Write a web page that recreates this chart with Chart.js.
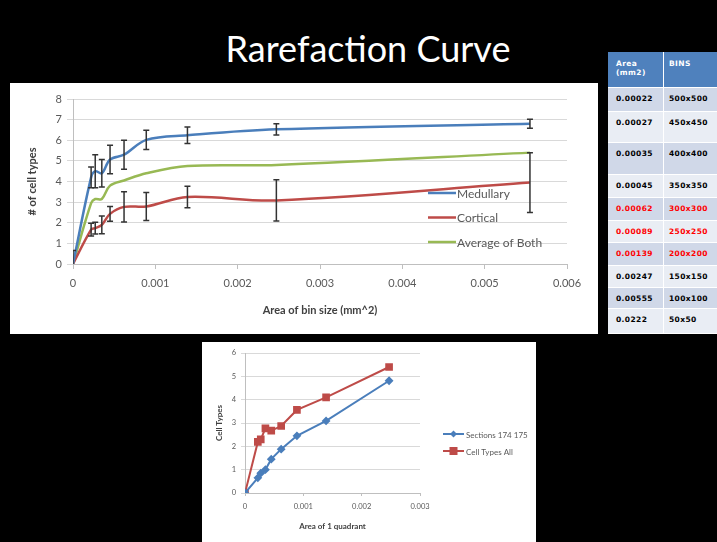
<!DOCTYPE html>
<html>
<head>
<meta charset="utf-8">
<script src="https://cdn.jsdelivr.net/npm/chart.js@4.4.1/dist/chart.umd.min.js"></script>
<style>
  html, body { margin: 0; padding: 0; background: #000; width: 717px; height: 542px; overflow: hidden; font-family: Lato, sans-serif; }
  #title { position: absolute; left: 0; top: 30px; width: 736px; text-align: center; color: #fff; font-size: 36px; line-height: 36px; }
  #topBox { position: absolute; left: 10px; top: 83px; width: 588px; height: 251px; background: #fff; }
  #botBox { position: absolute; left: 202px; top: 342px; width: 334px; height: 200px; background: #fff; }
  #binTable { position: absolute; left: 608px; top: 52px; width: 120px; }
  #binTable .row { display: flex; border-bottom: 1.5px solid #fff; box-sizing: border-box; }
  #binTable .cell { box-sizing: border-box; padding: 6px 0 0 8px; font: bold 7.5px "DejaVu Sans", sans-serif; letter-spacing: 0.4px; line-height: 9px; }
  #binTable .c1 { width: 56px; border-right: 1.5px solid #fff; }
  #binTable .c2 { width: 64px; padding-left: 5px; }
</style>
</head>
<body>
<div id="title">Rarefaction Curve</div>
<div id="topBox"><canvas id="topChart" width="588" height="251"></canvas></div>
<div id="binTable"></div>
<div id="botBox"><canvas id="botChart" width="334" height="200"></canvas></div>
<script>
// top chart: area of bin (mm^2) vs number of cell types
const areaX = [0, 0.00022, 0.00027, 0.00035, 0.00045, 0.00062, 0.00089, 0.00139, 0.00247, 0.00555];
const medullary = [0, 4.2, 4.5, 4.4, 5.07, 5.3, 6.02, 6.24, 6.53, 6.8];
const medullaryErr = [0.65, 0.5, 0.8, 0.67, 0.69, 0.7, 0.47, 0.4, 0.27, 0.22];
const cortical = [0, 1.67, 1.74, 1.9, 2.43, 2.77, 2.79, 3.25, 3.08, 3.95];
const corticalErr = [0, 0.31, 0.28, 0.43, 0.36, 0.73, 0.68, 0.52, 1.0, 1.45];
const average = [0, 2.95, 3.15, 3.15, 3.8, 4.05, 4.4, 4.75, 4.8, 5.4];

// bottom chart: area of 1 quadrant
const quadX = [0, 0.00022, 0.00027, 0.00035, 0.00045, 0.00062, 0.00089, 0.00139, 0.00247];
const sections174 = [0, 0.65, 0.85, 1.0, 1.45, 1.88, 2.45, 3.09, 4.81];
const cellTypesAll = [0, 2.19, 2.3, 2.77, 2.67, 2.87, 3.56, 4.1, 5.4];

// table on the right
const tableAreas = ['0.00022', '0.00027', '0.00035', '0.00045', '0.00062', '0.00089', '0.00139', '0.00247', '0.00555', '0.0222'];
const tableBins = ['500x500', '450x450', '400x400', '350x350', '300x300', '250x250', '200x200', '150x150', '100x100', '50x50'];
const tableRed = [false, false, false, false, true, true, true, false, false, false];
const rowHeights = [24, 31, 32, 23, 23, 22, 23, 22, 21, 25];

function toPoints(xs, ys) {
    return xs.map((x, i) => ({ x: x, y: ys[i] }));
}

function tickLabel(value) {
    return value === 0 ? '0' : value.toFixed(3);
}

// table
const table = document.getElementById('binTable');
let html = '<div class="row" style="height:36px;background:#4F81BD;color:#fff">' +
    '<div class="cell c1" style="padding-top:7px">Area<br>(mm2)</div><div class="cell c2" style="padding-top:7px">BINS</div></div>';
tableAreas.forEach((a, i) => {
    const bg = i % 2 === 0 ? '#D0D8E8' : '#E9EDF4';
    const fg = tableRed[i] ? '#FF0000' : '#000';
    html += '<div class="row" style="height:' + rowHeights[i] + 'px;background:' + bg + ';color:' + fg + '">' +
        '<div class="cell c1">' + a + '</div><div class="cell c2">' + tableBins[i] + '</div></div>';
});
table.innerHTML = html;

const errorBars = {
    id: 'errorBars',
    afterDatasetsDraw(chart) {
        const { ctx, chartArea, scales } = chart;
        ctx.save();
        ctx.beginPath();
        ctx.rect(chartArea.left, chartArea.top - 5, chartArea.width, chartArea.height + 5);
        ctx.clip();
        ctx.strokeStyle = '#333';
        ctx.lineWidth = 1.5;
        chart.data.datasets.forEach(ds => {
            if (!ds.errors) return;
            ds.data.forEach((p, i) => {
                const e = ds.errors[i];
                if (!e) return;
                const px = scales.x.getPixelForValue(p.x);
                const top = scales.y.getPixelForValue(p.y + e);
                const bot = scales.y.getPixelForValue(p.y - e);
                ctx.beginPath();
                ctx.moveTo(px, top); ctx.lineTo(px, bot);
                ctx.moveTo(px - 3, top); ctx.lineTo(px + 3, top);
                ctx.moveTo(px - 3, bot); ctx.lineTo(px + 3, bot);
                ctx.stroke();
            });
        });
        ctx.restore();
    }
};

const sideLegend = {
    id: 'sideLegend',
    afterDraw(chart, args, opts) {
        const ctx = chart.ctx;
        ctx.save();
        ctx.font = opts.font;
        ctx.textBaseline = 'middle';
        chart.data.datasets.forEach((ds, i) => {
            const y = opts.y + i * opts.gap;
            const mid = opts.x + opts.lineLen / 2;
            ctx.strokeStyle = ds.borderColor;
            ctx.lineWidth = ds.borderWidth;
            ctx.beginPath();
            ctx.moveTo(opts.x, y);
            ctx.lineTo(opts.x + opts.lineLen, y);
            ctx.stroke();
            ctx.fillStyle = ds.borderColor;
            if (ds.pointStyle === 'rect') {
                ctx.fillRect(mid - ds.pointRadius, y - ds.pointRadius, ds.pointRadius * 2, ds.pointRadius * 2);
            } else if (ds.pointStyle === 'rectRot') {
                const r = ds.pointRadius + 0.5;
                ctx.beginPath();
                ctx.moveTo(mid, y - r); ctx.lineTo(mid + r, y); ctx.lineTo(mid, y + r); ctx.lineTo(mid - r, y);
                ctx.closePath();
                ctx.fill();
            }
            ctx.fillStyle = opts.color;
            ctx.fillText(ds.label, opts.x + opts.lineLen + opts.textGap, y + 1);
        });
        ctx.restore();
    }
};

const tickColor = '#595959';
const titleColor = '#404040';

new Chart(document.getElementById('topChart'), {
    type: 'line',
    data: {
        datasets: [
            { label: 'Medullary', data: toPoints(areaX, medullary), errors: medullaryErr,
              borderColor: '#4A7EBB', borderWidth: 2.5, pointRadius: 0, tension: 0.35 },
            { label: 'Cortical', data: toPoints(areaX, cortical), errors: corticalErr,
              borderColor: '#BE4B48', borderWidth: 2.5, pointRadius: 0, tension: 0.35 },
            { label: 'Average of Both', data: toPoints(areaX, average),
              borderColor: '#98B954', borderWidth: 2.5, pointRadius: 0, tension: 0.35 }
        ]
    },
    options: {
        responsive: false,
        animation: false,
        layout: { padding: { left: 0, right: 31, top: 16, bottom: 0 } },
        plugins: {
            legend: { display: false },
            tooltip: { enabled: false },
            sideLegend: { x: 418, y: 110, gap: 24.5, lineLen: 28, textGap: 1, font: '12px Lato', color: tickColor }
        },
        scales: {
            x: {
                type: 'linear', min: 0, max: 0.006,
                ticks: { stepSize: 0.001, callback: tickLabel, color: tickColor, font: { family: 'Lato', size: 11 }, padding: 8 },
                grid: { drawOnChartArea: false, tickLength: 5, color: '#BFBFBF' },
                border: { color: '#BFBFBF' },
                title: { display: true, text: 'Area of bin size (mm^2)', color: titleColor,
                         font: { family: 'Lato', size: 11, weight: 'bold' }, padding: { top: 0, bottom: 17 } },
                afterFit: s => { s.height = 70; }
            },
            y: {
                min: 0, max: 8,
                ticks: { stepSize: 1, color: tickColor, font: { family: 'Lato', size: 11 }, padding: 5 },
                grid: { color: '#D9D9D9', tickLength: 6 },
                border: { color: '#BFBFBF' },
                title: { display: true, text: '# of cell types', color: titleColor,
                         font: { family: 'Lato', size: 11, weight: 'bold' }, padding: { top: 16, bottom: 0 } },
                afterFit: s => { s.width = 63; }
            }
        }
    },
    plugins: [errorBars, sideLegend]
});

new Chart(document.getElementById('botChart'), {
    type: 'line',
    data: {
        datasets: [
            { label: 'Sections 174 175', data: toPoints(quadX, sections174),
              borderColor: '#4A7EBB', backgroundColor: '#4A7EBB', borderWidth: 2,
              pointStyle: 'rectRot', pointRadius: 3, pointBackgroundColor: '#4A7EBB', pointBorderColor: '#4A7EBB', tension: 0 },
            { label: 'Cell Types All', data: toPoints(quadX, cellTypesAll),
              borderColor: '#BE4B48', backgroundColor: '#BE4B48', borderWidth: 2,
              pointStyle: 'rect', pointRadius: 4, pointBackgroundColor: '#BE4B48', pointBorderColor: '#BE4B48', tension: 0 }
        ]
    },
    options: {
        responsive: false,
        animation: false,
        layout: { padding: { left: 0, right: 116, top: 11, bottom: 0 } },
        plugins: {
            legend: { display: false },
            tooltip: { enabled: false },
            sideLegend: { x: 241, y: 92, gap: 17, lineLen: 21, textGap: 2, font: '8px Lato', color: tickColor }
        },
        scales: {
            x: {
                type: 'linear', min: 0, max: 0.003,
                ticks: { stepSize: 0.001, callback: tickLabel, color: tickColor, font: { family: 'Lato', size: 7.5 }, padding: 6 },
                grid: { drawOnChartArea: false, tickLength: 3, color: '#BFBFBF' },
                border: { color: '#BFBFBF' },
                title: { display: true, text: 'Area of 1 quadrant', color: titleColor,
                         font: { family: 'Lato', size: 8, weight: 'bold' }, padding: { top: 0, bottom: 11 } },
                afterFit: s => { s.height = 49; }
            },
            y: {
                min: 0, max: 6,
                ticks: { stepSize: 1, color: tickColor, font: { family: 'Lato', size: 7.5 }, padding: 5 },
                grid: { color: '#D9D9D9', tickLength: 4 },
                border: { color: '#BFBFBF' },
                title: { display: true, text: 'Cell Types', color: titleColor,
                         font: { family: 'Lato', size: 8, weight: 'bold' }, padding: { top: 13, bottom: 0 } },
                afterFit: s => { s.width = 43; }
            }
        }
    },
    plugins: [sideLegend]
});
</script>
</body>
</html>
